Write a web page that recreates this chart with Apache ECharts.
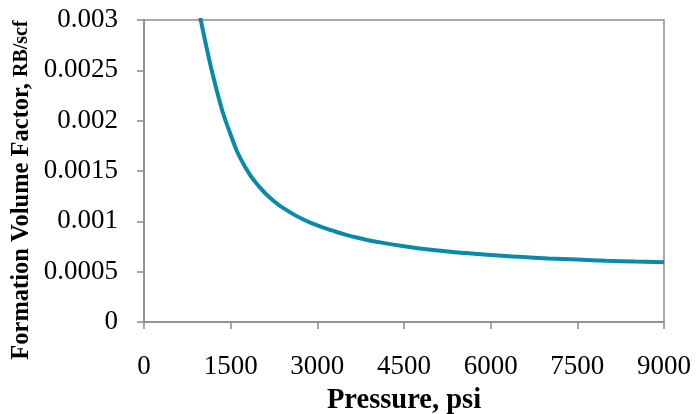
<!DOCTYPE html>
<html>
<head>
<meta charset="utf-8">
<script src="https://cdn.jsdelivr.net/npm/echarts@6/dist/echarts.min.js"></script>
<style>
  html, body { margin: 0; padding: 0; background: #fff; }
  #chart { width: 696px; height: 414px; }
</style>
</head>
<body>
<div id="chart"></div>
<script>
// Gas formation volume factor versus pressure
const pressure = [950, 1000, 1250, 1500, 1750, 2000, 2250, 2500, 2750, 3000, 3250, 3500, 3750,
                  4000, 4500, 5000, 5500, 6000, 6500, 7000, 7500, 8000, 8500, 9000];
const bg = [0.00312, 0.00295, 0.00232, 0.00186, 0.00154, 0.00134, 0.00120, 0.00110, 0.00102,
            0.00096, 0.00091, 0.000865, 0.00083, 0.000800, 0.000752, 0.000715, 0.000688,
            0.000665, 0.000647, 0.000632, 0.000620, 0.000609, 0.000600, 0.000593];
const xTicks = [0, 1500, 3000, 4500, 6000, 7500, 9000];
const yTicks = [0, 0.0005, 0.001, 0.0015, 0.002, 0.0025, 0.003];

const axisGray = '#8c8c8c';
const serif = '"Liberation Serif", "Times New Roman", serif';

const chart = echarts.init(document.getElementById('chart'));
chart.setOption({
  animation: false,
  backgroundColor: '#fff',
  grid: {
    left: 144, right: 32, top: 20, bottom: 92,
    containLabel: false,
    outerBoundsMode: 'none',
    show: true, borderColor: axisGray, borderWidth: 1.5
  },
  xAxis: {
    type: 'value',
    min: xTicks[0], max: xTicks[xTicks.length - 1], interval: 1500,
    name: 'Pressure, psi',
    nameLocation: 'middle',
    nameGap: 64,
    nameTextStyle: { fontFamily: serif, fontWeight: 'bold', fontSize: 28.5, color: '#000' },
    axisLine: { show: true, lineStyle: { color: axisGray, width: 1.5 } },
    axisTick: { show: true, inside: false, length: 7, lineStyle: { color: axisGray, width: 1.5 } },
    axisLabel: {
      fontFamily: serif, fontSize: 27, color: '#000', margin: 31,
      formatter: v => String(v)
    },
    splitLine: { show: false }
  },
  yAxis: {
    type: 'value',
    min: yTicks[0], max: yTicks[yTicks.length - 1], interval: 0.0005,
    axisLine: { show: true, lineStyle: { color: axisGray, width: 1.5 } },
    axisTick: { show: true, inside: false, length: 7, lineStyle: { color: axisGray, width: 1.5 } },
    axisLabel: {
      fontFamily: serif, fontSize: 27, color: '#000', margin: 26,
      formatter: v => String(+v.toFixed(4))
    },
    splitLine: { show: false }
  },
  graphic: [{
    type: 'text',
    x: 22, y: 190,
    rotation: Math.PI / 2,
    style: {
      text: '{a|Formation Volume Factor, }{b|RB/scf}',
      align: 'center', verticalAlign: 'middle',
      rich: {
        a: { fontFamily: serif, fontWeight: 'bold', fontSize: 24.5, fill: '#000' },
        b: { fontFamily: serif, fontWeight: 'bold', fontSize: 20, fill: '#000' }
      }
    }
  }],
  series: [{
    type: 'line',
    data: pressure.map((p, i) => [p, bg[i]]),
    smooth: 0.5,
    showSymbol: false,
    clip: true,
    lineStyle: { color: '#0a8aab', width: 4 }
  }]
});
</script>
</body>
</html>
